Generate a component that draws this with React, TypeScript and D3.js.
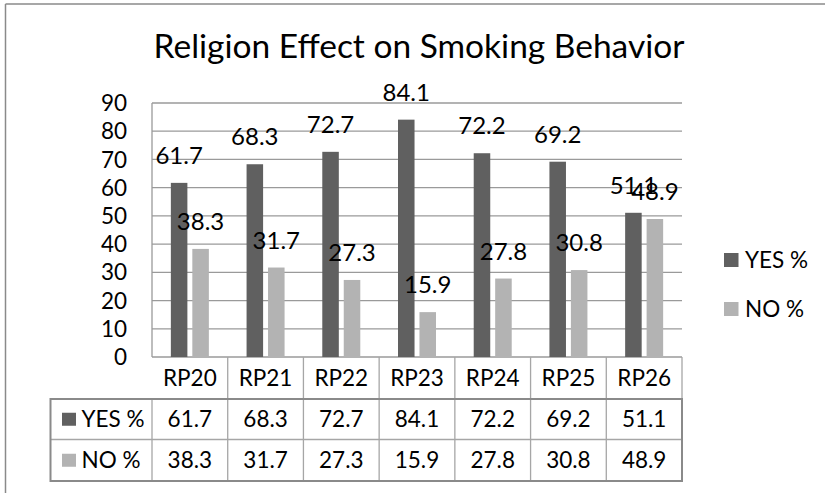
import React from "react";
import * as d3 from "d3";

const categories = ["RP20", "RP21", "RP22", "RP23", "RP24", "RP25", "RP26"];
const seriesNames = ["YES %", "NO %"];
const yesValues = [61.7, 68.3, 72.7, 84.1, 72.2, 69.2, 51.1];
const noValues = [38.3, 31.7, 27.3, 15.9, 27.8, 30.8, 48.9];
const yTicks = [0, 10, 20, 30, 40, 50, 60, 70, 80, 90];
const seriesColors = ["#606060", "#b3b3b3"];
const title = "Religion Effect on Smoking Behavior";

const W = 825;
const H = 493;
const FONT = "Lato, 'Open Sans', sans-serif";

export default function App() {
  const plotLeft = 152;
  const plotRight = 682;
  const plotTop = 103;
  const plotBottom = 357;

  const x = d3.scaleBand<string>().domain(categories).range([plotLeft, plotRight]).padding(0);
  const bw = x.bandwidth();
  const groupW = 38;
  const inner = d3
    .scaleBand<string>()
    .domain(seriesNames)
    .range([(bw - groupW) / 2, (bw + groupW) / 2])
    .paddingInner(0.23)
    .paddingOuter(0);
  const y = d3.scaleLinear().domain([0, 90]).range([plotBottom, plotTop]);

  const seriesData = [yesValues, noValues];

  const rowEdges = [plotBottom, 399, 439.5, 481];
  const labelColLeft = 50.5;
  const gridColor = "#9a9a9a";
  const tableInner = "#a6a6a6";
  const tableOuter = "#8a8a8a";

  return (
    <svg
      width={W}
      height={H}
      style={{ position: "absolute", left: 0, top: 0, background: "#fff" }}
      fontFamily={FONT}
    >
      <rect x={0} y={0} width={W} height={H} fill="#fff" />
      <line x1={5.5} x2={W} y1={4} y2={4} stroke="#8a8a8a" strokeWidth={1.5} />
      <line x1={5.5} x2={5.5} y1={4} y2={H} stroke="#8a8a8a" strokeWidth={1.5} />

      <text x={419} y={58} textAnchor="middle" fontSize={33.5} fill="#000">
        {title}
      </text>

      {yTicks.map((t) => (
        <line
          key={"g" + t}
          x1={plotLeft}
          x2={plotRight}
          y1={y(t)}
          y2={y(t)}
          stroke={gridColor}
          strokeWidth={1.3}
        />
      ))}
      <line x1={plotLeft} x2={plotLeft} y1={plotTop} y2={plotBottom} stroke={gridColor} strokeWidth={1.3} />

      {yTicks.map((t) => (
        <text
          key={"t" + t}
          x={127}
          y={y(t)}
          dy="0.36em"
          textAnchor="end"
          fontSize={22.5}
          fill="#000"
        >
          {t}
        </text>
      ))}

      {categories.map((c, i) =>
        seriesNames.map((s, j) => {
          const v = seriesData[j][i];
          const bx = (x(c) as number) + (inner(s) as number);
          return (
            <rect
              key={c + s}
              x={bx}
              y={y(v)}
              width={inner.bandwidth()}
              height={y(0) - y(v)}
              fill={seriesColors[j]}
            />
          );
        })
      )}

      {categories.map((c, i) =>
        seriesNames.map((s, j) => {
          const v = seriesData[j][i];
          const cx = (x(c) as number) + (inner(s) as number) + inner.bandwidth() / 2;
          return (
            <text
              key={"l" + c + s}
              x={cx}
              y={y(v) - 19}
              textAnchor="middle"
              fontSize={24}
              fill="#000"
            >
              {v.toFixed(1)}
            </text>
          );
        })
      )}

      {seriesNames.map((s, j) => (
        <g key={"lg" + s} transform={`translate(724, ${260 + j * 49})`}>
          <rect x={0} y={-7} width={14.5} height={14} fill={seriesColors[j]} />
          <text x={21} y={0} dy="0.36em" fontSize={22.5} fill="#000">
            {s}
          </text>
        </g>
      ))}

      {categories.map((c) => (
        <text
          key={"tc" + c}
          x={(x(c) as number) + bw / 2}
          y={(rowEdges[0] + rowEdges[1]) / 2}
          dy="0.36em"
          textAnchor="middle"
          fontSize={22.5}
          fill="#000"
        >
          {c}
        </text>
      ))}
      {categories.map((c) => (
        <line
          key={"vc" + c}
          x1={(x(c) as number) + bw}
          x2={(x(c) as number) + bw}
          y1={rowEdges[0]}
          y2={rowEdges[1]}
          stroke={tableInner}
          strokeWidth={1.3}
        />
      ))}
      {categories.map((c) => (
        <line
          key={"vd" + c}
          x1={x(c) as number}
          x2={x(c) as number}
          y1={rowEdges[1]}
          y2={rowEdges[3]}
          stroke={tableInner}
          strokeWidth={1.3}
        />
      ))}
      <line x1={labelColLeft} x2={plotRight} y1={rowEdges[2]} y2={rowEdges[2]} stroke={tableInner} strokeWidth={1.3} />
      <rect
        x={labelColLeft}
        y={rowEdges[1]}
        width={plotRight - labelColLeft}
        height={rowEdges[3] - rowEdges[1]}
        fill="none"
        stroke={tableOuter}
        strokeWidth={2}
      />
      {seriesNames.map((s, j) => {
        const cy = (rowEdges[1 + j] + rowEdges[2 + j]) / 2;
        return (
          <g key={"row" + s}>
            <rect x={62} y={cy - 6.5} width={14} height={13} fill={seriesColors[j]} />
            <text x={81.5} y={cy} dy="0.36em" fontSize={22.5} fill="#000">
              {s}
            </text>
            {categories.map((c, i) => (
              <text
                key={"cell" + s + c}
                x={(x(c) as number) + bw / 2}
                y={cy}
                dy="0.36em"
                textAnchor="middle"
                fontSize={22.5}
                fill="#000"
              >
                {seriesData[j][i].toFixed(1)}
              </text>
            ))}
          </g>
        );
      })}
    </svg>
  );
}
